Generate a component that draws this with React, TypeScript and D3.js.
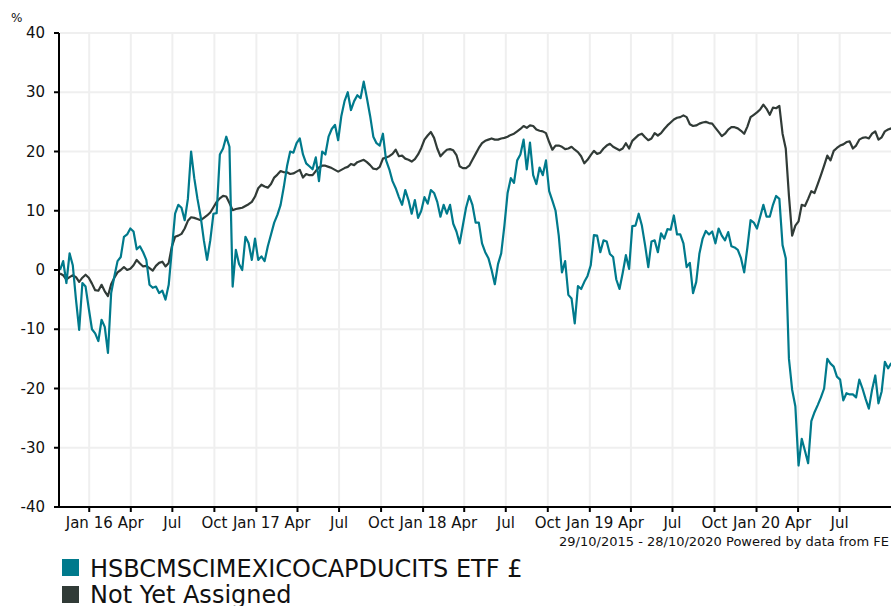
import React, { useEffect, useRef } from 'react'
import * as d3 from 'd3'

const startDate = new Date(2015, 9, 29)
const endDate = new Date(2020, 9, 28)

const fundName = 'HSBCMSCIMEXICOCAPDUCITS ETF £'
const sectorName = 'Not Yet Assigned'
const footerText = '29/10/2015 - 28/10/2020 Powered by data from FE'

// weekly % growth, first value is 29/10/2015
const fundValues = [
    0, 1.5, -2.2, 2.8, 0.8, -5, -10.1, -2.2, -2.8, -6.5,
    -10, -10.7, -12, -8.4, -9.6, -14, -3.9, -1.1, 1.5, 2.2,
    5.6, 6, 7, 6.5, 3.5, 4, 3, 1.7, -2.5, -3,
    -2.8, -3.9, -3.5, -5, -2.5, 3.5, 9.5, 11, 10.5, 8.4,
    12, 20, 15.5, 12, 9, 5, 1.7, 5, 9.5, 9.6,
    19.5, 20.5, 22.5, 20.8, -2.8, 3.4, 1, 0, 5.6, 4.5,
    1.7, 5.3, 1.7, 2.3, 1.5, 4, 6, 8, 9.3, 11,
    14, 17.5, 20, 19.8, 21.4, 22.2, 19.5, 18, 17.5, 17,
    19, 15, 20, 19.5, 22.5, 23.8, 24.5, 21.9, 26, 28.5,
    30, 27, 28.5, 29.5, 29, 31.8, 29, 26, 22.5, 21.4,
    21, 23, 18.5, 17, 15, 13.8, 12.3, 11, 13.5, 11.8,
    9.5, 11.8, 8.8, 10, 12.3, 11.2, 13.5, 13, 11.5, 9,
    11, 9.5, 11, 7.8, 6.5, 4.5, 7.5, 10.5, 12.5, 11,
    8, 8, 4.5, 3, 2, 0, -2.4, 1, 2.8, 7.5,
    13, 15.5, 14.7, 18.5, 19.5, 22, 17, 21.5, 16, 14.5,
    17.3, 16, 18.5, 13.3, 11.7, 10, 5.8, -0.4, 1.5, -4.2,
    -4.8, -9, -2.7, -3.2, -2, -1, 0.8, 5.9, 5.8, 3,
    5, 4.8, 2.7, 2.2, -1.6, -3.2, -0.5, 2.5, 0.2, 7.4,
    7.5, 9.5, 7.5, 4.2, 0.5, 4.8, 5, 3, 6.2, 5.3,
    6.9, 6.8, 9.2, 6, 6, 4.5, 0.5, 1.2, -3.9, -2,
    2.8, 5.3, 6.6, 6, 6.5, 4.5, 7, 5.8, 5, 6.4,
    4, 3.8, 3.4, 2, -0.4, 3.8, 8.4, 8, 7, 9,
    11, 9, 9, 11, 12.5, 12, 4.2, 2, -15, -20.2,
    -23, -33, -28.5, -30.5, -32.6, -25.5, -24, -22.8, -21.5, -20,
    -15, -15.8, -16.3, -18, -18.5, -22, -20.8, -21, -21, -21.5,
    -18.5, -20, -21.8, -23.4, -20.2, -17.8, -22.5, -20.5, -15.5, -16.6,
    -15.7,
]

const sectorValues = [
    -0.6, -0.9, -1.6, -1.2, -0.9, -1.2, -2, -1.3, -0.8, -1.3,
    -2.3, -3.4, -3.5, -2.5, -3.6, -4.4, -2.4, -1.3, -0.4, 0,
    0.5, 0, 0.2, 0.8, 1.7, 1.1, 0.6, 0.7, 0.3, -0.1,
    0.7, 1.2, 1.4, 0.6, 1.2, 4, 5.6, 5.8, 6.1, 7,
    8.3, 8.9, 8.8, 8.6, 8.4, 8.8, 9.2, 9.7, 10.6, 11.5,
    12.1, 12.5, 12.4, 11.3, 10.1, 10.3, 10.4, 10.5, 10.8, 11.1,
    11.5, 12.4, 13.8, 14.4, 14.1, 13.9, 14.5, 15.6, 16.1, 16.7,
    16.5, 16.5, 16.2, 16.3, 16.6, 16.9, 15.6, 16.2, 16, 16,
    16.7, 17.3, 17.6, 17.6, 17.4, 17.2, 16.9, 16.6, 16.9, 17.2,
    17.4, 17.9, 17.7, 18.2, 18.4, 18.6, 18.2, 17.7, 17.1, 17,
    17.4, 18.8, 19, 19.2, 19.6, 20.3, 19.2, 19.3, 18.8, 18.6,
    18.3, 18.7, 19.5, 20.6, 22, 22.7, 23.3, 22.3, 20.5, 19.2,
    19.8, 20.3, 20.4, 20.2, 19.4, 17.5, 17.2, 17.2, 17.6, 18.6,
    19.6, 20.6, 21.4, 21.8, 22, 22.2, 22, 22, 22.2, 22.3,
    22.5, 22.8, 23, 23.4, 23.8, 24.3, 24, 24.4, 24.3, 23.7,
    23.5, 23.4, 23.1, 21.6, 20.3, 21, 21, 20.8, 20.4, 20.5,
    20.8, 20.3, 19.9, 19.2, 18, 18.6, 19.4, 20.1, 19.6, 19.8,
    20.5, 21, 21.3, 20.8, 20.5, 20.2, 20.5, 21.4, 20.5, 21.8,
    22.3, 22.8, 23, 22.4, 21.9, 22.2, 23.1, 22.7, 23.1, 23.8,
    24.4, 24.9, 25.4, 25.7, 25.8, 26.1, 25.8, 24.6, 24.3, 24.4,
    24.7, 24.9, 25, 24.8, 24.7, 24, 23.3, 22.6, 23, 23.7,
    24.1, 24.1, 23.9, 23.5, 23, 24.2, 25.8, 26.2, 26.6, 27.1,
    27.9, 27.2, 26.2, 27.4, 27.3, 27.7, 23, 20.5, 12.5, 5.8,
    7.5, 8.2, 11, 10.8, 12, 13.3, 13, 14.5, 16, 17.6,
    19.3, 18.5, 20.1, 20.6, 21, 21.2, 21.6, 21.7, 20.5, 21,
    22, 22.3, 22.4, 22.2, 23, 23.4, 22, 22.4, 23.4, 23.7,
    23.9,
]

const yTicks = [-40, -30, -20, -10, 0, 10, 20, 30, 40]

const fundColor = '#007a8c'
const sectorColor = '#313b37'
const gridColor = '#efefef'
const font = "'DejaVu Sans', Verdana, sans-serif"

const width = 891
const height = 606
const margin = { top: 33, left: 60, bottom: 99 }
const plotRight = 894

interface Point {
    date: Date
    value: number
}

const toPoints = (values: number[]): Point[] =>
    values.map((v, i) => ({ date: d3.timeDay.offset(startDate, i * 7), value: v }))

export default function App() {
    const svgRef = useRef<SVGSVGElement | null>(null)

    useEffect(() => {
        const svg = d3.select(svgRef.current)
        svg.selectAll('*').remove()

        const bottom = height - margin.bottom

        const xScale = d3.scaleTime().domain([startDate, endDate]).range([margin.left, plotRight])
        const yScale = d3.scaleLinear().domain([-40, 40]).range([bottom, margin.top])

        // quarterly ticks, Jan 16 .. Jul 20
        const xTicks = d3.timeMonth.every(3)!.range(new Date(2016, 0, 1), new Date(2020, 7, 1))
        const fmtTick = (d: Date) => (d.getMonth() === 0 ? d3.timeFormat('%b %y')(d) : d3.timeFormat('%b')(d))

        // grid
        const grid = svg.append('g')
        grid.selectAll('line.h')
            .data(yTicks)
            .join('line')
            .attr('x1', margin.left)
            .attr('x2', width)
            .attr('y1', (d) => yScale(d))
            .attr('y2', (d) => yScale(d))
            .attr('stroke', gridColor)
            .attr('stroke-width', 2)
        grid.selectAll('line.v')
            .data(xTicks)
            .enter()
            .append('line')
            .attr('x1', (d) => xScale(d))
            .attr('x2', (d) => xScale(d))
            .attr('y1', margin.top)
            .attr('y2', bottom)
            .attr('stroke', gridColor)
            .attr('stroke-width', 2)

        const line = d3
            .line<Point>()
            .x((d) => xScale(d.date))
            .y((d) => yScale(d.value))

        svg.append('path')
            .datum(toPoints(sectorValues))
            .attr('fill', 'none')
            .attr('stroke', sectorColor)
            .attr('stroke-width', 2.2)
            .attr('stroke-linejoin', 'round')
            .attr('d', line)

        svg.append('path')
            .datum(toPoints(fundValues))
            .attr('fill', 'none')
            .attr('stroke', fundColor)
            .attr('stroke-width', 2.2)
            .attr('stroke-linejoin', 'round')
            .attr('d', line)

        // y axis
        const yAxis = svg.append('g').attr('transform', `translate(${margin.left - 1}, 0)`)
        yAxis.append('line').attr('y1', margin.top).attr('y2', bottom + 1).attr('stroke', '#000').attr('stroke-width', 2)
        yAxis.selectAll('line.t')
            .data(yTicks)
            .enter()
            .append('line')
            .attr('x1', -5)
            .attr('x2', 0)
            .attr('y1', (d) => yScale(d))
            .attr('y2', (d) => yScale(d))
            .attr('stroke', '#000')
            .attr('stroke-width', 2)
        yAxis.selectAll('text')
            .data(yTicks)
            .join('text')
            .attr('x', -14)
            .attr('y', (d) => yScale(d) + 5)
            .attr('text-anchor', 'end')
            .attr('font-family', font)
            .attr('font-size', 15)
            .attr('fill', '#111')
            .text((d) => d)

        // x axis
        const xAxis = svg.append('g').attr('transform', `translate(0, ${bottom})`)
        xAxis.append('line').attr('x1', margin.left - 2).attr('x2', width).attr('stroke', '#000').attr('stroke-width', 2)
        xAxis.selectAll('line.t')
            .data(xTicks)
            .enter()
            .append('line')
            .attr('x1', (d) => xScale(d))
            .attr('x2', (d) => xScale(d))
            .attr('y1', 0)
            .attr('y2', 5)
            .attr('stroke', '#000')
            .attr('stroke-width', 2)
        xAxis.selectAll('text')
            .data(xTicks)
            .join('text')
            .attr('x', (d) => xScale(d))
            .attr('y', 21)
            .attr('text-anchor', 'middle')
            .attr('font-family', font)
            .attr('font-size', 15)
            .attr('fill', '#111')
            .text(fmtTick)

        svg.append('text')
            .attr('x', 11)
            .attr('y', 22)
            .attr('font-family', font)
            .attr('font-size', 12)
            .attr('fill', '#111')
            .text('%')

        svg.append('text')
            .attr('x', 889)
            .attr('y', 546)
            .attr('text-anchor', 'end')
            .attr('font-family', font)
            .attr('font-size', 13)
            .attr('fill', '#111')
            .text(footerText)

        // legend
        const legend = svg.append('g')
        const items = [
            { name: fundName, color: fundColor },
            { name: sectorName, color: sectorColor },
        ]
        items.forEach((item, i) => {
            legend.append('rect')
                .attr('x', 62)
                .attr('y', 559 + i * 27)
                .attr('width', 17)
                .attr('height', 17)
                .attr('fill', item.color)
            legend.append('text')
                .attr('x', 90)
                .attr('y', 577 + i * 26)
                .attr('font-family', font)
                .attr('font-size', 24)
                .attr('fill', '#111')
                .text(item.name)
        })
    }, [])

    return (
        <svg
            ref={svgRef}
            width={width}
            height={height}
            style={{ position: 'absolute', left: 0, top: 0, background: '#fff' }}
        />
    )
}
